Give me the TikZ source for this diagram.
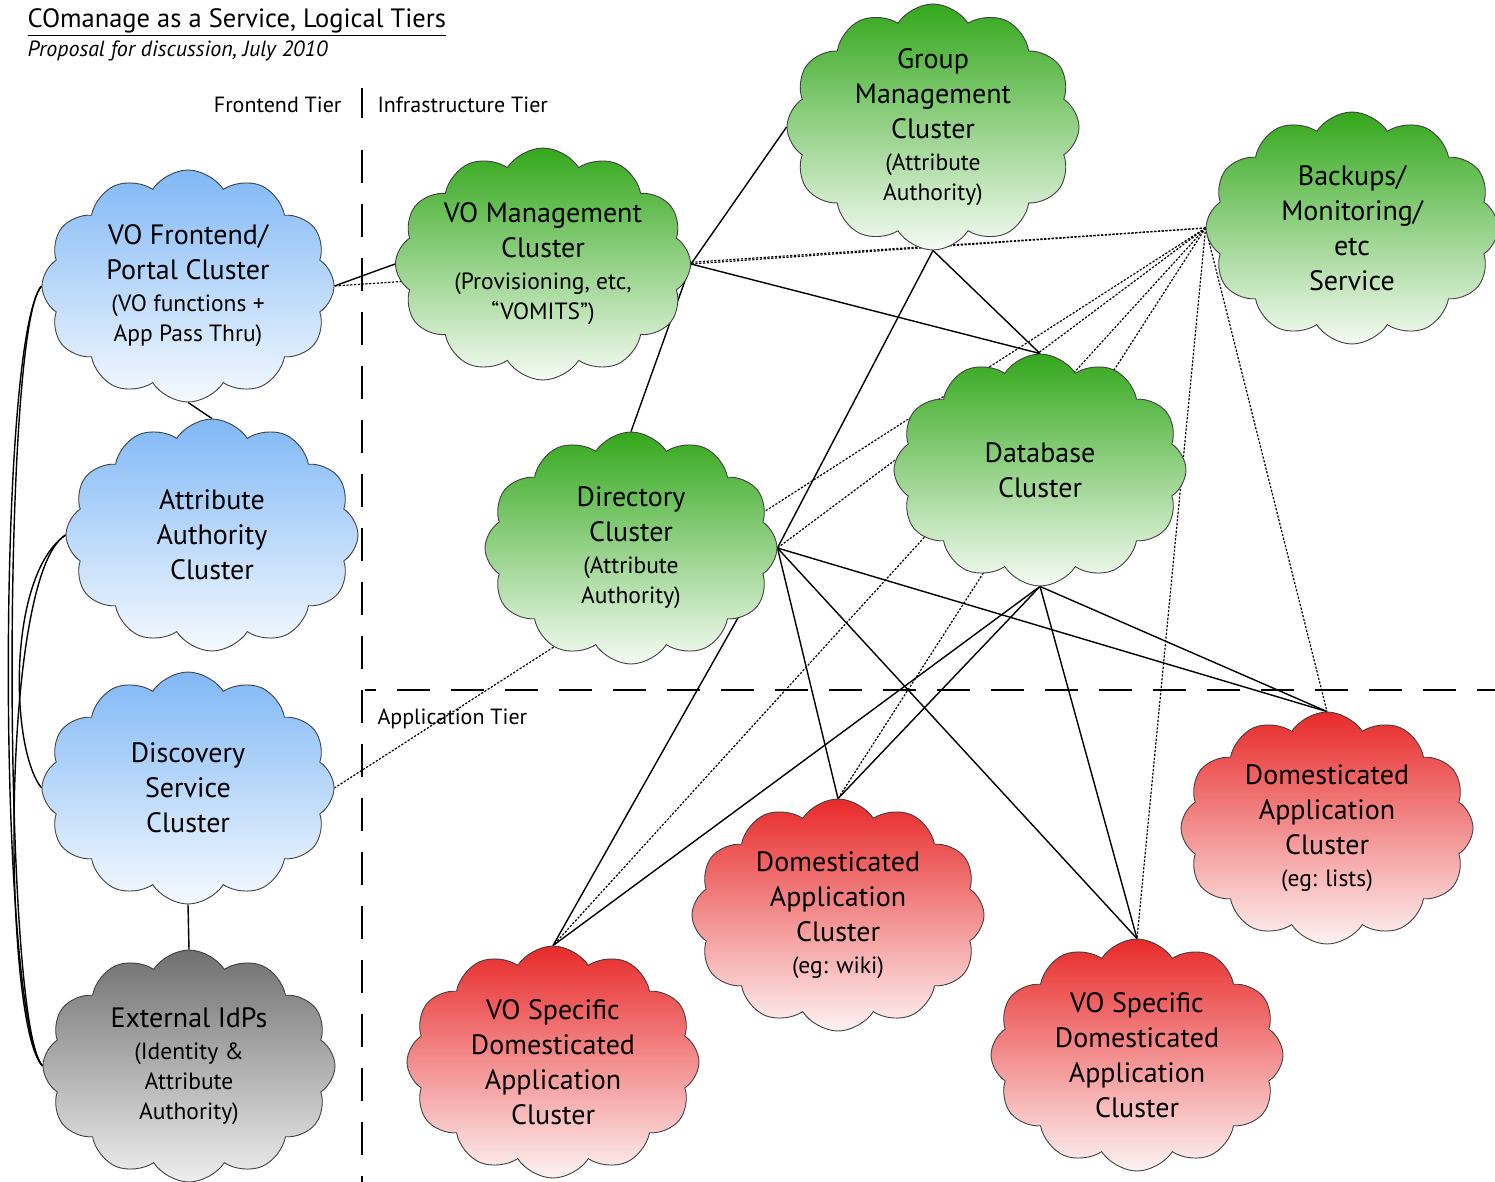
\documentclass[tikz,border=0pt]{standalone}
\usepackage{fontspec}
\setmainfont{PT Sans}
\usetikzlibrary{shapes.symbols}
\usetikzlibrary{backgrounds}
\definecolor{frontblue}{RGB}{128,184,246}
\definecolor{infragreen}{RGB}{52,168,28}
\definecolor{appred}{RGB}{232,42,42}
\definecolor{extgray}{RGB}{112,112,112}
\newcommand{\mainsize}{\fontsize{28}{35}\selectfont}
\newcommand{\subline}[1]{{\fontsize{23.5}{30}\selectfont #1}}
\tikzset{
    cluster/.style={cloud, cloud puffs=12, cloud puff arc=115, cloud ignores aspect, draw=black!75, line width=0.9pt,
        minimum width=292pt, minimum height=232pt, inner sep=0pt, align=center, font=\mainsize},
    front/.style={cluster, top color=frontblue, bottom color=frontblue!8},
    infra/.style={cluster, top color=infragreen, bottom color=infragreen!5},
    app/.style={cluster, top color=appred, bottom color=appred!6},
    extern/.style={cluster, top color=extgray, bottom color=extgray!12},
    link/.style={line width=1.4pt},
    monitor/.style={line width=1.2pt, dash pattern=on 2.2pt off 1.6pt},
    tier/.style={line width=2.8pt, dash pattern=on 33pt off 21pt},
    heading/.style={font=\fontsize{22}{26}\selectfont}
}

\begin{document}
\begin{tikzpicture}[x=1pt, y=-1pt]
      \useasboundingbox (0,0) rectangle (1495,1182);

      % title and tier names
      \node[anchor=base west, font=\fontsize{26.5}{34}\selectfont] (title) at (24,28) {\underline{COmanage as a Service, Logical Tiers}};
      \node[anchor=base west, font=\fontsize{22}{26}\selectfont\itshape] (subtitle) at (24,57) {Proposal for discussion, July 2010};
      \node[heading, anchor=base east] (frontend-tier) at (345,113) {Frontend Tier};
      \node[heading, anchor=base west] (infra-tier) at (374,113) {Infrastructure Tier};
      \node[heading, anchor=base west] (app-tier) at (374,724) {Application Tier};

      \draw[line width=2.8pt] (362,88) -- (362,118);
      \draw[tier] (362,150) -- (362,1182);
      \draw[tier] (1510,690) -- (365,690);

      % frontend tier
      \node[front] (vo-frontend) at (188,286) {VO Frontend/\\Portal Cluster\\[-3pt]\subline{(VO functions +}\\[-5pt]\subline{App Pass Thru)}};
      \node[front] (attr-auth) at (212,535) {Attribute\\Authority\\Cluster};
      \node[front] (discovery) at (188,788) {Discovery\\Service\\Cluster};
      \node[extern] (ext-idps) at (189,1066) {External IdPs\\[-3pt]\subline{(Identity \&}\\[-5pt]\subline{Attribute}\\[-5pt]\subline{Authority)}};

      % infrastructure tier
      \node[infra] (vo-mgmt) at (543,264) {VO Management\\Cluster\\[-3pt]\subline{(Provisioning, etc,}\\[-5pt]\subline{“VOMITS”)}};
      \node[infra] (group-mgmt) at (933,127) {Group\\Management\\Cluster\\[-3pt]\subline{(Attribute}\\[-5pt]\subline{Authority)}};
      \node[infra] (backups) at (1352,228) {Backups/\\Monitoring/\\etc\\Service};
      \node[infra] (database) at (1040,470) {Database\\Cluster};
      \node[infra] (directory) at (631,548) {Directory\\Cluster\\[-3pt]\subline{(Attribute}\\[-5pt]\subline{Authority)}};

      % application tier
      \node[app] (dom-lists) at (1327,828) {Domesticated\\Application\\Cluster\\[-3pt]\subline{(eg: lists)}};
      \node[app] (dom-wiki) at (838,915) {Domesticated\\Application\\Cluster\\[-3pt]\subline{(eg: wiki)}};
      \node[app] (vo-app-a) at (553,1062) {VO Specific\\Domesticated\\Application\\Cluster};
      \node[app] (vo-app-b) at (1137,1055) {VO Specific\\Domesticated\\Application\\Cluster};

      \begin{scope}[on background layer]
        % frontend links
        \draw[link] (vo-frontend.east) -- (vo-mgmt.west);
        \draw[link] (vo-frontend.south) -- (attr-auth.north);
        \draw[link] (discovery.south) -- (ext-idps.north);
        \draw[link] (vo-frontend.west) .. controls +(-40,40) and +(-40,-40) .. (ext-idps.west);
        \draw[link] (vo-frontend.west) .. controls +(-45,55) and +(-45,-55) .. (ext-idps.west);
        \draw[link] (attr-auth.west) .. controls +(-66,40) and +(-40,-40) .. (ext-idps.west);
        \draw[link] (attr-auth.west) .. controls +(-58,40) and +(-32,-40) .. (discovery.west);

        % infrastructure links
        \draw[link] (vo-mgmt.east) -- (group-mgmt.west);
        \draw[link] (vo-mgmt.east) -- (database.north);
        \draw[link] (vo-mgmt.east) -- (directory.north);
        \draw[link] (group-mgmt.south) -- (database.north);
        \draw[link] (group-mgmt.south) -- (directory.east);

        % application links
        \draw[link] (directory.east) -- (vo-app-a.north);
        \draw[link] (directory.east) -- (dom-wiki.north);
        \draw[link] (directory.east) -- (vo-app-b.north);
        \draw[link] (directory.east) -- (dom-lists.north);
        \draw[link] (database.south) -- (vo-app-a.north);
        \draw[link] (database.south) -- (dom-wiki.north);
        \draw[link] (database.south) -- (vo-app-b.north);
        \draw[link] (database.south) -- (dom-lists.north);

        % monitoring links
        \draw[monitor] (backups.west) -- (vo-frontend.east);
        \draw[monitor] (backups.west) -- (vo-mgmt.east);
        \draw[monitor] (backups.west) -- (directory.east);
        \draw[monitor] (backups.west) -- (discovery.east);
        \draw[monitor] (backups.west) -- (vo-app-a.north);
        \draw[monitor] (backups.west) -- (dom-wiki.north);
        \draw[monitor] (backups.west) -- (vo-app-b.north);
        \draw[monitor] (backups.west) -- (dom-lists.north);
      \end{scope}
    \end{tikzpicture}
\end{document}
